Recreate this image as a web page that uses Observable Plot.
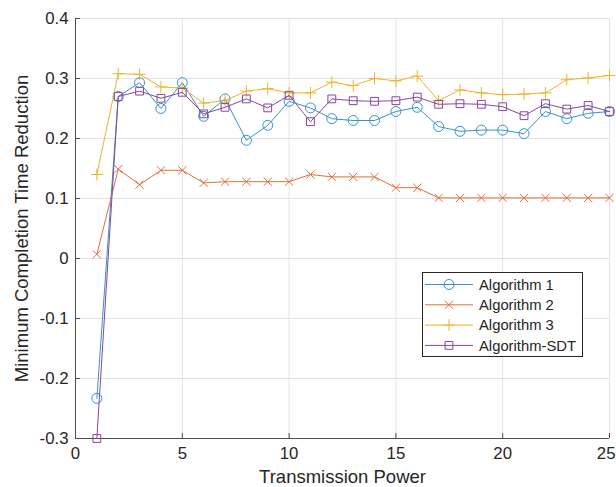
<!DOCTYPE html>
<html><head><meta charset="utf-8">
<script src="https://cdn.jsdelivr.net/npm/d3@7"></script>
<script src="https://cdn.jsdelivr.net/npm/@observablehq/plot@0.6"></script>
<style>
body{margin:0;background:#fff;font-family:"Liberation Sans",Arial,sans-serif}
#chart{position:relative;width:616px;height:487px}
#legend{position:absolute;left:0;top:0}
</style>
</head><body><div id="chart"></div>
<script>
const power = [1,2,3,4,5,6,7,8,9,10,11,12,13,14,15,16,17,18,19,20,21,22,23,24,25];
const alg1 = [-0.233,0.270,0.293,0.250,0.293,0.237,0.266,0.197,0.222,0.262,0.251,0.233,0.230,0.230,0.245,0.252,0.220,0.212,0.214,0.214,0.208,0.245,0.233,0.242,0.245];
const alg2 = [0.007,0.149,0.123,0.147,0.147,0.126,0.128,0.128,0.128,0.128,0.140,0.136,0.136,0.136,0.118,0.118,0.101,0.101,0.101,0.101,0.101,0.101,0.101,0.101,0.101];
const alg3 = [0.140,0.308,0.307,0.286,0.284,0.259,0.263,0.279,0.283,0.276,0.276,0.294,0.288,0.300,0.296,0.304,0.263,0.281,0.276,0.273,0.274,0.276,0.298,0.301,0.305];
const algSDT = [-0.300,0.270,0.279,0.267,0.277,0.241,0.252,0.266,0.251,0.272,0.228,0.266,0.263,0.262,0.263,0.269,0.257,0.258,0.257,0.253,0.238,0.258,0.249,0.255,0.245];

const seriesNames = ["Algorithm 1","Algorithm 2","Algorithm 3","Algorithm-SDT"];
const seriesValues = [alg1, alg2, alg3, algSDT];
const seriesColors = ["#3592cf","#e0703c","#ecb42a","#8a45a0"];
const seriesSymbols = ["circle","times","plus","square"];
const seriesR = [5, 3.8, 3.9, 4.4];

const xTicks = [0,5,10,15,20,25];
const yTicks = [-0.3,-0.2,-0.1,0,0.1,0.2,0.3,0.4];
const xDomain = [0,25];
const yDomain = [-0.3,0.4];
const xLabel = "Transmission Power";
const yLabel = "Minimum Completion Time Reduction";

const W = 616, H = 487, mL = 75, mR = 7, mT = 18, mB = 49;
const plotW = W - mL - mR, plotH = H - mT - mB;
const FONT = "'Liberation Sans', Arial, sans-serif";

const data = [];
seriesNames.forEach((name, i) => {
  power.forEach((p, j) => data.push({series: name, idx: i, x: p, y: seriesValues[i][j]}));
});

const axisColor = "#4d4d4d";
const lastX = xTicks[xTicks.length - 1];
const marks = [
  Plot.gridY(yTicks, {stroke: "#e3e3e3", strokeOpacity: 1}),
  Plot.gridX(xTicks, {stroke: "#e3e3e3", strokeOpacity: 1}),
  Plot.ruleX([xDomain[0]], {stroke: axisColor}),
  Plot.ruleY([yDomain[0]], {stroke: axisColor}),
  Plot.ruleY(yTicks, {stroke: axisColor, insetRight: plotW - 5}),
  Plot.ruleX(xTicks, {stroke: axisColor, insetTop: plotH - 5}),
  Plot.axisY(yTicks, {tickSize: 0, tickPadding: 7, fontSize: 16.8, color: "#262626",
    tickFormat: d => d === 0 ? "0" : d3.format(".1f")(d).replace("−","-"), label: null}),
  Plot.axisX(xTicks.filter(t => t !== lastX), {tickSize: 0, tickPadding: 9, fontSize: 16.8, color: "#262626", label: null}),
  Plot.axisX([lastX], {tickSize: 0, tickPadding: 9, fontSize: 16.8, color: "#262626", label: null, textAnchor: "end", dx: 6}),
  Plot.text([xLabel], {frameAnchor: "bottom", dy: 39, fontSize: 18.5, fill: "#262626", lineAnchor: "middle", textAnchor: "middle"}),
  Plot.text([yLabel], {frameAnchor: "left", dx: -53, rotate: -90, fontSize: 18.5, fill: "#262626", lineAnchor: "middle", textAnchor: "middle"})
];
seriesNames.forEach((name, i) => {
  const d = data.filter(r => r.idx === i);
  marks.push(Plot.line(d, {x: "x", y: "y", stroke: seriesColors[i], strokeWidth: 1}));
  marks.push(Plot.dot(d, {x: "x", y: "y", stroke: seriesColors[i], fill: "none", symbol: seriesSymbols[i], r: seriesR[i], strokeWidth: 1}));
});

const chart = Plot.plot({
  width: W, height: H,
  marginLeft: mL, marginRight: mR, marginTop: mT, marginBottom: mB,
  style: {fontFamily: FONT, background: "#fff"},
  x: {domain: xDomain},
  y: {domain: yDomain},
  marks
});
document.getElementById("chart").appendChild(chart);

// Legend overlay
const leg = d3.select("#chart").append("svg").attr("id","legend").attr("width", W).attr("height", H);
const lx = 422, ly = 272, lw = 160, lh = 84;
leg.append("rect").attr("x", lx + 0.5).attr("y", ly + 0.5).attr("width", lw).attr("height", lh)
  .attr("fill", "#fff").attr("stroke", "#262626").attr("stroke-width", 1);
const symMap = {circle: d3.symbolCircle, times: d3.symbolTimes, plus: d3.symbolPlus, square: d3.symbolSquare};
seriesNames.forEach((name, i) => {
  const cy = ly + 12.5 + i * 20.3;
  const g = leg.append("g");
  g.append("line").attr("x1", lx + 3).attr("x2", lx + 51).attr("y1", cy).attr("y2", cy)
    .attr("stroke", seriesColors[i]).attr("stroke-width", 1);
  g.append("path").attr("transform", `translate(${lx + 27},${cy})`)
    .attr("d", d3.symbol(symMap[seriesSymbols[i]], Math.PI * seriesR[i] * seriesR[i])())
    .attr("fill", "none").attr("stroke", seriesColors[i]).attr("stroke-width", 1);
  g.append("text").attr("x", lx + 57).attr("y", cy).attr("dy", "0.35em")
    .attr("font-size", 14.8).attr("fill", "#262626")
    .attr("font-family", FONT).text(name);
});
</script>
</body></html>
